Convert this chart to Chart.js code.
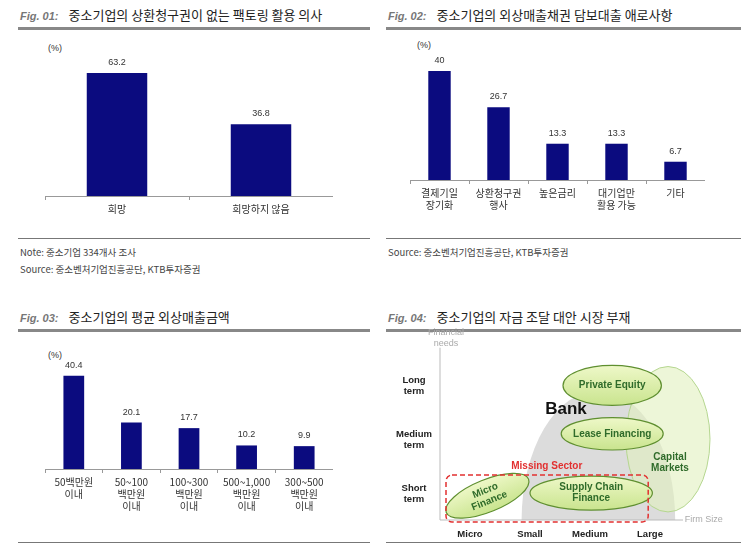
<!DOCTYPE html>
<html><head><meta charset="utf-8">
<script src="https://cdn.jsdelivr.net/npm/chart.js@4"></script>
<style>
body{margin:0;width:743px;height:549px;background:#fff;position:relative;font-family:"Noto Sans CJK KR","Liberation Sans",sans-serif;overflow:hidden}
.t{position:absolute;font-size:13px;color:#222;white-space:nowrap}
.t i{font-family:"Liberation Sans",Arial,sans-serif;font-weight:bold;color:#777;font-size:11px;margin-right:10px}
.hl{position:absolute;height:3px;background:#888}
.bl{position:absolute;height:1px;background:#777}
.s{position:absolute;font-size:9.5px;color:#444;white-space:nowrap}
.u{position:absolute;font-size:9px;color:#333;font-family:"Liberation Sans",Arial}
canvas{position:absolute}
</style></head><body>
<div class="t" style="left:20px;top:5px"><i>Fig. 01:</i>중소기업의 상환청구권이 없는 팩토링 활용 의사</div>
<div class="hl" style="left:18px;top:27px;width:352px"></div>
<div class="t" style="left:388px;top:5px"><i>Fig. 02:</i>중소기업의 외상매출채권 담보대출 애로사항</div>
<div class="hl" style="left:386px;top:27px;width:355px"></div>
<div class="t" style="left:20px;top:307px"><i>Fig. 03:</i>중소기업의 평균 외상매출금액</div>
<div class="hl" style="left:18px;top:329px;width:352px"></div>
<div class="t" style="left:388px;top:307px"><i>Fig. 04:</i>중소기업의 자금 조달 대안 시장 부재</div>
<div class="hl" style="left:386px;top:329px;width:355px"></div>
<div class="bl" style="left:18px;top:238px;width:352px"></div>
<div class="bl" style="left:386px;top:238px;width:355px"></div>
<div class="bl" style="left:18px;top:542px;width:352px"></div>
<div class="bl" style="left:386px;top:542px;width:355px"></div>
<div class="s" style="left:20px;top:245px">Note: 중소기업 334개사 조사</div>
<div class="s" style="left:20px;top:262px">Source: 중소벤처기업진흥공단, KTB투자증권</div>
<div class="s" style="left:388px;top:245px">Source: 중소벤처기업진흥공단, KTB투자증권</div>
<div class="u" style="left:48px;top:43px">(%)</div>
<div class="u" style="left:417px;top:40px">(%)</div>
<div class="u" style="left:48px;top:350px">(%)</div>
<canvas id="c1" style="left:45px;top:33px;width:288px;height:185px"></canvas>
<canvas id="c2" style="left:410px;top:39px;width:295px;height:175px"></canvas>
<canvas id="c3" style="left:45px;top:330px;width:288px;height:185px"></canvas>
<canvas id="c4" style="left:390px;top:325px;width:350px;height:220px"></canvas>
<script>
const fig1Labels=["희망","희망하지 않음"];
const fig1Values=[63.2,36.8];
const fig2Labels=[["결제기일","장기화"],["상환청구권","행사"],["높은금리"],["대기업만","활용 가능"],["기타"]];
const fig2Values=[40,26.7,13.3,13.3,6.7];
const fig3Labels=[["50백만원","이내"],["50~100","백만원","이내"],["100~300","백만원","이내"],["500~1,000","백만원","이내"],["300~500","백만원","이내"]];
const fig3Values=[40.4,20.1,17.7,10.2,9.9];
// Fig 4 diagram: [label, cx, cy, rx, ry, rotationDeg]
const fig4XLabels=["Micro","Small","Medium","Large"];
const fig4XPos=[0.5,1.5,2.5,3.5];
const fig4YLabels=[["Short","term"],["Medium","term"],["Long","term"]];
const fig4YPos=[1,3,5];
const fig4Bank=[2.64,0,1.28,4.8];
const fig4Capital=[["Capital","Markets"],3.8,3.0,0.7,2.7,0];
const fig4Ellipses=[
 [["Private Equity"],2.87,5.0,0.82,0.74,0],
 [["Lease Financing"],2.87,3.2,0.85,0.6,0],
 [["Supply Chain","Finance"],2.52,1.0,1.02,0.63,0],
 [["Micro","Finance"],0.79,0.9,0.74,0.6,-22]
];
const fig4Missing=[0.1,3.47,0,1.67];

const NAVY="#0b0b7f";
const lab={id:'lab',afterDatasetsDraw(c){const x=c.ctx;const m=c.getDatasetMeta(0);x.save();x.font='9px "Liberation Sans",Arial';x.fillStyle='#333';x.textAlign='center';m.data.forEach((b,i)=>x.fillText(c.data.datasets[0].data[i],b.x,b.y-8));x.restore();}};
function bar(id,labels,vals,max,pct){
 new Chart(document.getElementById(id),{type:'bar',data:{labels,datasets:[{data:vals,backgroundColor:NAVY,categoryPercentage:1,barPercentage:pct}]},
 options:{responsive:false,animation:false,plugins:{legend:{display:false},tooltip:{enabled:false}},layout:{padding:{top:0}},
 scales:{y:{display:false,min:0,max},x:{grid:{offset:true,drawOnChartArea:false,tickLength:4,color:'#999'},border:{color:'#999'},ticks:{color:'#333',font:{size:10,family:'"Noto Sans CJK KR"'},padding:3,autoSkip:false,maxRotation:0}}}},plugins:[lab]});
}
bar('c1',fig1Labels,fig1Values,83.7,0.42);
bar('c2',fig2Labels,fig2Values,51.7,0.38);
bar('c3',fig3Labels,fig3Values,60.2,0.36);

const diag={id:'diag',afterDraw(c){
 const x=c.ctx,X=c.scales.x,Y=c.scales.y;
 const px=v=>X.getPixelForValue(v),py=v=>Y.getPixelForValue(v);
 const sx=v=>Math.abs(px(v)-px(0)),sy=v=>Math.abs(py(v)-py(0));
 x.save();
 x.fillStyle='#dcdcdc';x.beginPath();x.ellipse(px(fig4Bank[0]),py(fig4Bank[1]),sx(fig4Bank[2]),sy(fig4Bank[3]),0,Math.PI,2*Math.PI);x.closePath();x.fill();
 x.strokeStyle='#bbb';x.lineWidth=1;x.beginPath();x.moveTo(px(0),py(6.4));x.lineTo(px(0),py(0));x.lineTo(px(4.05),py(0));x.stroke();
 let e=fig4Capital;x.fillStyle='rgba(225,240,190,0.6)';x.strokeStyle='#b5d690';x.beginPath();x.ellipse(px(e[1]),py(e[2]),sx(e[3]),sy(e[4]),0,0,2*Math.PI);x.fill();x.stroke();
 x.textAlign='center';x.textBaseline='middle';
 fig4Ellipses.forEach(e=>{
  const cx=px(e[1]),cy=py(e[2]);
  x.save();x.translate(cx,cy);x.rotate(e[5]*Math.PI/180);
  const g=x.createLinearGradient(0,-sy(e[4]),0,sy(e[4]));g.addColorStop(0,'#eef8c8');g.addColorStop(1,'#c9e48e');
  x.fillStyle=g;x.strokeStyle='#5f8f30';x.lineWidth=1.2;x.beginPath();x.ellipse(0,0,sx(e[3]),sy(e[4]),0,0,2*Math.PI);x.fill();x.stroke();
  x.fillStyle='#2f6b2a';x.font='bold 10px "Liberation Sans",Arial';
  e[0].forEach((t,i)=>x.fillText(t,0,i*11-(e[0].length-1)*5.5));
  x.restore();
 });
 x.fillStyle='#2f6b2a';x.font='bold 10px "Liberation Sans",Arial';
 e=fig4Capital;e[0].forEach((t,i)=>x.fillText(t,px(e[1])+2,py(e[2])+18+i*11));
 const m=fig4Missing;x.strokeStyle='#e23030';x.lineWidth=1.5;x.setLineDash([5,3]);x.beginPath();
 x.roundRect(px(m[0]),py(m[3]),px(m[1])-px(m[0]),py(m[2])-py(m[3])+2,6);x.stroke();x.setLineDash([]);
 x.fillStyle='#e23030';x.font='bold 10px "Liberation Sans",Arial';x.fillText('Missing Sector',px(1.78),py(2.0));
 x.fillStyle='#111';x.font='bold 17px "Liberation Sans",Arial';x.fillText('Bank',px(2.1),py(4.1));
 x.fillStyle='#aaa';x.font='9px "Liberation Sans",Arial';x.fillText('Financial',px(0.1),py(6.95));x.fillText('needs',px(0.1),py(6.55));
 x.textAlign='left';x.fillText('Firm Size',px(4.08),py(0));
 x.textAlign='center';x.fillStyle='#222';x.font='bold 9.5px "Liberation Sans",Arial';
 fig4XLabels.forEach((t,i)=>x.fillText(t,px(fig4XPos[i]),py(0)+14));
 fig4YLabels.forEach((t,i)=>t.forEach((s,j)=>x.fillText(s,px(0)-26,py(fig4YPos[i])-5+j*11)));
 x.restore();
}};
new Chart(document.getElementById('c4'),{type:'scatter',data:{datasets:[{data:[]}]},
 options:{responsive:false,animation:false,layout:{padding:{left:50,top:20,right:42,bottom:25}},plugins:{legend:{display:false},tooltip:{enabled:false}},
 scales:{x:{display:false,min:0,max:4.3},y:{display:false,min:0,max:6.5}}},plugins:[diag]});
</script></body></html>
